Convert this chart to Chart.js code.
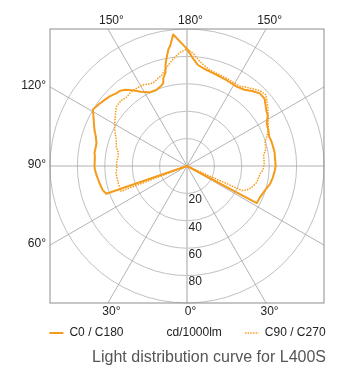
<!DOCTYPE html>
<html>
<head>
<meta charset="utf-8">
<script src="https://cdn.jsdelivr.net/npm/chart.js@4.4.1/dist/chart.umd.min.js"></script>
<style>
  html, body { margin: 0; padding: 0; background: #ffffff; }
  #wrap { width: 364px; height: 371px; position: relative; }
</style>
</head>
<body>
<div id="wrap"><canvas id="c"></canvas></div>
<script>
// ---------- data ----------
const seriesNames = ['C0 / C180', 'C90 / C270'];
const unitLabel = 'cd/1000lm';
const titleText = 'Light distribution curve for L400S';

// angular categories: gamma angle in degrees, 0 = straight down, clockwise on screen
const angleCategories = Array.from({ length: 360 }, (_, i) => i);

// C0 / C180 (solid) — angle (deg) and intensity (cd/1000lm)
const c0Angles = [0, 71, 74, 79, 85, 88, 90, 96, 98, 104, 108, 111, 115, 117, 121, 125, 129, 132, 136, 138, 141, 145, 148, 151, 153, 158, 162, 164, 165, 167, 168, 169, 171, 172, 174, 180, 183, 186, 191, 198, 204, 212, 217, 221, 225, 229, 235, 238, 242, 246, 250, 254, 256, 261, 266, 270, 274, 278, 282, 287, 293, 298];
const c0Values = [0, 62.3, 64.0, 65.1, 66.6, 67.3, 67.5, 67.6, 68.2, 68.1, 70.0, 72.3, 75.0, 76.5, 80.2, 78.5, 77.0, 75.9, 74.0, 73.6, 71.7, 67.3, 64.0, 61.8, 60.2, 59.8, 61.4, 63.0, 66.5, 70.0, 75.4, 79.2, 86.5, 88.4, 96.5, 85.5, 79.0, 74.3, 71.6, 69.9, 69.1, 68.3, 69.7, 72.5, 75.0, 75.0, 70.7, 69.5, 65.9, 65.0, 63.7, 64.2, 64.3, 64.7, 64.5, 64.7, 64.0, 63.1, 62.1, 59.8, 58.0, 57.7];

// C90 / C270 (dotted)
const c90Angles = [0, 69, 73, 76, 84, 88, 92, 98, 101, 105, 111, 115, 119, 123, 127, 130, 135, 138, 144, 148, 151, 155, 158, 161, 164, 168, 172, 176, 180, 183, 187, 193, 199, 204, 213, 218, 224, 228, 234, 240, 244, 248, 253, 258, 262, 268, 273, 276, 283, 288, 292, 294];
const c90Values = [0, 51.5, 51.6, 51.7, 52.1, 51.2, 51.5, 50.8, 51.0, 53.4, 55.4, 57.9, 60.5, 62.6, 65.2, 67.3, 67.9, 66.8, 68.0, 67.5, 67.6, 66.0, 65.5, 67.0, 68.5, 73.1, 78.0, 82.6, 85.5, 82.5, 76.9, 72.1, 70.8, 70.3, 69.8, 72.5, 76.5, 77.5, 73.0, 68.4, 66.0, 63.5, 59.6, 58.8, 56.5, 56.4, 55.6, 53.7, 52.4, 49.8, 47.1, 43.9];

// tick labels
const radialTicks = [20, 40, 60, 80];
const spokeAngles = [0, 30, 60, 90, 120, 150, 180, 210, 240, 270, 300, 330];
const topAngles = [150, 180, 210];
const leftAngles = [120, 90, 60];
const bottomAngles = [30, 0, 330];

// ---------- styling ----------
const FONT = "'Liberation Sans', Arial, Helvetica, sans-serif";
const ORANGE = '#f59b1c';
Chart.defaults.font.family = FONT;

function onAngleGrid(angles, values) {
  const out = angleCategories.map(() => null);
  angles.forEach((a, i) => { out[a] = values[i]; });
  return out;
}

const polarFrame = {
  id: 'polarFrame',
  beforeDatasetsDraw(chart) {
    const s = chart.scales.r, ctx = chart.ctx;
    const cx = s.xCenter, cy = s.yCenter, R = s.drawingArea;
    ctx.save();
    ctx.beginPath();
    ctx.rect(cx - R, cy - R, 2 * R, 2 * R);
    ctx.clip();
    spokeAngles.forEach(a => {
      const p = s.getPointPosition(a, 3 * R);
      const axial = a % 180 === 0;
      ctx.beginPath();
      ctx.moveTo(cx, cy);
      ctx.lineTo(p.x, p.y);
      ctx.lineWidth = axial ? 1.6 : 0.8;
      ctx.strokeStyle = axial ? '#c6c6c6' : '#a0a0a0';
      ctx.stroke();
    });
    ctx.restore();
    ctx.save();
    ctx.strokeStyle = '#8d8d8d';
    ctx.lineWidth = 1;
    ctx.strokeRect(cx - R, cy - R, 2 * R, 2 * R);
    ctx.restore();
  },
  afterDraw(chart) {
    const s = chart.scales.r, ctx = chart.ctx;
    const cx = s.xCenter, cy = s.yCenter, R = s.drawingArea;
    const dir = a => { const p = s.getPointPosition(a, 1); return { x: p.x - cx, y: p.y - cy }; };
    const deg = a => (a <= 180 ? a : 360 - a) + '°';
    ctx.save();
    ctx.font = '12px ' + FONT;
    ctx.fillStyle = '#222';
    ctx.textBaseline = 'middle';
    ctx.textAlign = 'center';
    topAngles.forEach(a => {
      const d = dir(a); const t = R / -d.y;
      ctx.fillText(deg(a), cx + d.x * t + 3.5, cy - R - 8.5);
    });
    bottomAngles.forEach(a => {
      const d = dir(a); const t = R / d.y;
      ctx.fillText(deg(a), cx + d.x * t + 3.5, cy + R + 8.5);
    });
    ctx.textAlign = 'right';
    leftAngles.forEach(a => {
      const d = dir(a); const t = R / -d.x;
      ctx.fillText(deg(a), cx - R - 4, cy + d.y * t - 1);
    });
    ctx.textAlign = 'left';
    radialTicks.forEach(v => {
      ctx.fillText(String(v), cx + 1.5, cy + s.getDistanceFromCenterForValue(v) + 6.5);
    });
    ctx.font = '16px ' + FONT;
    ctx.fillStyle = '#555';
    ctx.textAlign = 'right';
    ctx.fillText(titleText, cx + R + 2, chart.height - 13);
    ctx.restore();
  }
};

new Chart(document.getElementById('c'), {
  type: 'radar',
  data: {
    labels: angleCategories,
    datasets: [
      {
        label: seriesNames[0],
        data: onAngleGrid(c0Angles, c0Values),
        borderColor: ORANGE,
        borderWidth: 2,
        borderJoinStyle: 'round',
        pointRadius: 0,
        pointHitRadius: 0,
        fill: false,
        spanGaps: true,
        tension: 0
      },
      {
        label: seriesNames[1],
        data: onAngleGrid(c90Angles, c90Values),
        borderColor: ORANGE,
        borderWidth: 1.5,
        borderDash: [1.5, 1.2],
        pointRadius: 0,
        pointHitRadius: 0,
        fill: false,
        spanGaps: true,
        tension: 0
      }
    ]
  },
  options: {
    responsive: true,
    maintainAspectRatio: false,
    animation: false,
    layout: { padding: { left: 11, right: 0, top: 28.5, bottom: 22 } },
    scales: {
      r: {
        min: 0,
        max: 100,
        startAngle: 180,
        ticks: { stepSize: 20, display: false },
        grid: { circular: true, color: '#b0b0b0', lineWidth: 0.8 },
        angleLines: { display: false },
        pointLabels: { display: false }
      }
    },
    plugins: {
      tooltip: { enabled: false },
      title: { display: false },
      legend: {
        position: 'bottom',
        labels: {
          usePointStyle: true,
          pointStyleWidth: 14,
          padding: 23,
          color: '#222',
          font: { size: 12, family: FONT },
          generateLabels: () => [
            { text: seriesNames[0], pointStyle: 'line', strokeStyle: ORANGE, fillStyle: ORANGE, lineWidth: 2, lineDash: [], datasetIndex: 0, fontColor: '#222' },
            { text: unitLabel, pointStyle: 'line', strokeStyle: 'rgba(0,0,0,0)', fillStyle: 'rgba(0,0,0,0)', lineWidth: 0, fontColor: '#222' },
            { text: seriesNames[1], pointStyle: 'line', strokeStyle: ORANGE, fillStyle: ORANGE, lineWidth: 1.5, lineDash: [1.5, 1.2], datasetIndex: 1, fontColor: '#222' }
          ]
        }
      }
    }
  },
  plugins: [polarFrame]
});
</script>
</body>
</html>
